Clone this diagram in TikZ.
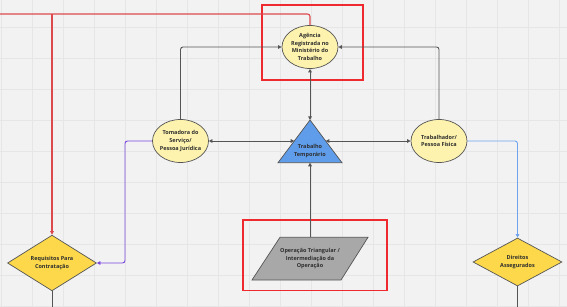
\documentclass[tikz,border=0pt]{standalone}
\usepackage{fontspec}
\setmainfont{Open Sans}
\usetikzlibrary{shapes.geometric,arrows.meta}
\definecolor{bgc}{HTML}{F2F2F2}
\definecolor{gridc}{HTML}{E6E6E6}
\definecolor{ellc}{HTML}{FDF3AE}
\definecolor{triC}{HTML}{5F9CE9}
\definecolor{diaC}{HTML}{FCD84A}
\definecolor{parC}{HTML}{A8A8A8}
\definecolor{boxred}{HTML}{EE2A2E}
\definecolor{linered}{HTML}{DC4A4E}
\definecolor{linepur}{HTML}{7A45DC}
\definecolor{lineblu}{HTML}{6FA3EE}
\definecolor{linegr}{HTML}{555555}
\definecolor{txt}{HTML}{2E2E2E}
\tikzset{
  lbl/.style={font=\fontsize{5.5}{7.7}\selectfont\bfseries, text=txt, align=center},
  ell/.style={lbl, ellipse, draw=linegr, line width=0.7pt, fill=ellc, minimum width=56pt, minimum height=43pt, inner sep=-1pt},
  dia/.style={lbl, diamond, draw=linegr, line width=0.7pt, fill=diaC, minimum width=89pt, minimum height=48pt, inner sep=0pt},
  conn/.style={draw=linegr, line width=0.9pt, rounded corners=2.5pt},
  tip/.style={-{Triangle[length=3.6pt,width=3.6pt]}},
  btip/.style={{Triangle[length=3.6pt,width=3.6pt]}-{Triangle[length=3.6pt,width=3.6pt]}},
  redbox/.style={draw=boxred, line width=1.2pt},
}
\begin{document}
\begin{tikzpicture}[x=1pt,y=-1pt]
\useasboundingbox (0,0) rectangle (567,307);
\fill[bgc] (0,0) rectangle (567,307);
\foreach \gx in {1,32,...,567} \draw[gridc, line width=0.6pt] (\gx,0) -- (\gx,307);
\foreach \gy in {-4,27,...,307} \draw[gridc, line width=0.6pt] (0,\gy) -- (567,\gy);

% nodes
\node[ell] (ag) at (310,47) {Agência\\Registrada no\\Ministério do\\Trabalho};
\node[ell] (tom) at (180.5,141) {Tomadora do\\Serviço/\\Pessoa Jurídica};
\node[ell] (trab) at (439,141) {Trabalhador/\\Pessoa Física};
\node[dia] (req) at (52,263) {Requisitos Para\\Contratação};
\node[dia] (dir) at (517.5,262) {Direitos\\Assegurados};

% triangle
\coordinate (tA) at (310,120);
\coordinate (tL) at (278,162.7);
\coordinate (tR) at (342,162.7);
\coordinate (tEl) at (294.3,141);
\coordinate (tEr) at (325.7,141);
\coordinate (tB) at (310,162.7);
\filldraw[fill=triC, draw=linegr, line width=0.7pt] (tA) -- (tR) -- (tL) -- cycle;
\node[lbl] (tt) at (310,151) {Trabalho\\Temporário};

% parallelogram
\coordinate (p1) at (280,237.3);
\coordinate (p2) at (368,237.3);
\coordinate (p3) at (341,280);
\coordinate (p4) at (252,280);
\filldraw[fill=parC, draw=linegr, line width=0.7pt] (p1) -- (p2) -- (p3) -- (p4) -- cycle;
\node[lbl] (op) at (310,258.7) {Operação Triangular /\\Intermediação da\\Operação};
\coordinate (pT) at (310,237.3);

% red boxes
\draw[redbox] (262,5) rectangle (363,80);
\draw[redbox] (243,220) rectangle (387,290.5);

% connectors
\draw[conn, btip] (ag.south) -- (tA);
\draw[conn, btip] (tom.east) -- (tEl);
\draw[conn, btip] (tEr) -- (trab.west);
\draw[conn, tip] (tom.north) |- (ag.west);
\draw[conn, tip] (trab.north) |- (ag.east);
\draw[conn, tip] (pT) -- (tB);

\coordinate (redL) at (0,14);
\coordinate (redJ) at (52,14);
\draw[draw=linered, line width=1.1pt, rounded corners=2.5pt] (ag.north) |- (redL);
\draw[draw=linered, line width=1.1pt, -{Triangle[length=3.6pt,width=3.6pt]}] (redJ) -- (req.north);

\coordinate (purX) at (125,141);
\draw[draw=linepur, line width=0.9pt, rounded corners=2.5pt, -{Triangle[length=3.6pt,width=3.6pt]}] (tom.west) -- (purX) |- (req.east);

\coordinate (bluX) at (517.5,141);
\draw[draw=lineblu, line width=0.9pt, rounded corners=2.5pt, -{Triangle[length=3.6pt,width=3.6pt]}] (trab.east) -- (bluX) -- (dir.north);

\coordinate (reqB) at (52,307);
\coordinate (dirB) at (517.5,307);
\draw[conn] (req.south) -- (reqB);
\draw[conn] (dir.south) -- (dirB);
\end{tikzpicture}
\end{document}
